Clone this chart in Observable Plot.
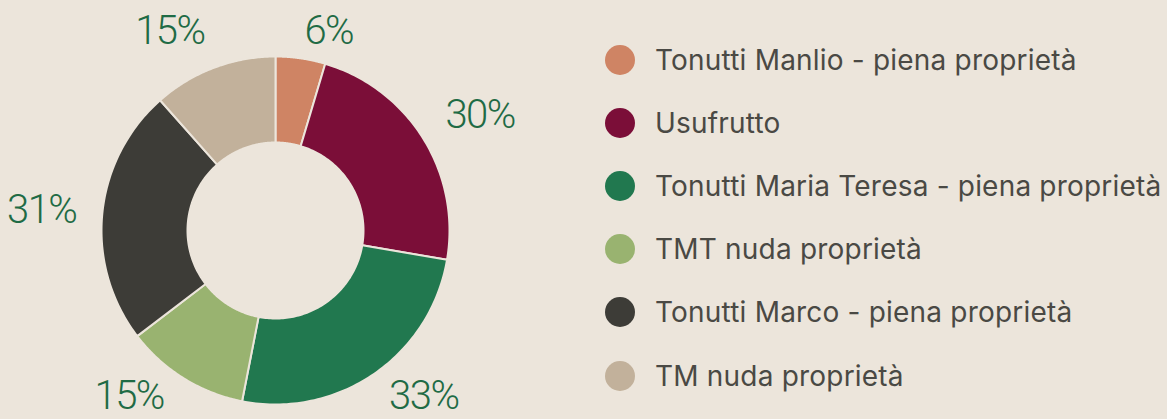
<!DOCTYPE html>
<html>
<head>
<meta charset="utf-8">
<script src="https://cdn.jsdelivr.net/npm/d3@7"></script>
<script src="https://cdn.jsdelivr.net/npm/@observablehq/plot@0.6"></script>
<style>
  html, body { margin: 0; padding: 0; background: #ece5db; }
  #wrap { position: relative; width: 1167px; height: 419px; overflow: hidden; }
  #legend { position: absolute; left: 605px; top: 28px; font-family: Inter, sans-serif; font-size: 28px; letter-spacing: 0.2px; color: #4a4944; }
  .row { display: flex; align-items: center; height: 63.2px; white-space: nowrap; }
  .dot { width: 30px; height: 30px; border-radius: 50%; margin-right: 20px; flex: none; }
</style>
</head>
<body>
<div id="wrap"><div id="chart"></div><div id="legend"></div></div>
<script>
const categories = [
  "Tonutti Manlio - piena proprietà",
  "Usufrutto",
  "Tonutti Maria Teresa - piena proprietà",
  "TMT nuda proprietà",
  "Tonutti Marco - piena proprietà",
  "TM nuda proprietà"
];
const values = [6, 30, 33, 15, 31, 15];
const labels = ["6%", "30%", "33%", "15%", "31%", "15%"];
const colors = ["#cf8464", "#7b0e38", "#21784f", "#99b370", "#3d3c37", "#c2b19b"];

const W = 1167, H = 419;
const cx = 275, cy = 230, R = 174, r0 = 88;   // layout (pixels)
const bg = "#ece5db";

const pie = d3.pie().sort(null).value(d => d)(values);

// slice outlines in unit coordinates (outer radius = 1)
const pts = [];
pie.forEach((s, i) => {
  const n = 80;
  for (let k = 0; k <= n; k++) {
    const a = s.startAngle + (s.endAngle - s.startAngle) * k / n;
    pts.push({i, cat: categories[i], x: Math.sin(a), y: Math.cos(a)});
  }
  for (let k = n; k >= 0; k--) {
    const a = s.startAngle + (s.endAngle - s.startAngle) * k / n;
    pts.push({i, cat: categories[i], x: Math.sin(a) * r0 / R, y: Math.cos(a) * r0 / R});
  }
});

// label layout: x on a circle of radius Rd, text pushed outward by half its height, y clamped into the frame
const Rd = 200, yMin = 31, yMax = 396, halfH = 15;
const clamp = v => Math.max(yMin, Math.min(yMax, v));
const lab = pie.map((s, i) => {
  const m = (s.startAngle + s.endAngle) / 2;
  const vx = Math.sin(m), vy = -Math.cos(m);
  const side = vx >= 0 ? 1 : -1;
  const yc = clamp(cy + Rd * vy);
  const px = cx + side * Math.sqrt(Math.max(0, Rd * Rd - (yc - cy) * (yc - cy)));
  const py = clamp(cy + Rd * vy + halfH * vy / Math.max(Math.abs(vx), Math.abs(vy)));
  return {text: labels[i], side, x: (px - cx) / R, y: (cy - py) / R};
});

const labelStyle = {x: "x", y: "y", text: "text", fill: "#1f6b45", fontSize: 40, fontWeight: 300,
  fontFamily: "Roboto"};

const chart = Plot.plot({
  width: W,
  height: H,
  margin: 0,
  style: {background: "transparent"},
  x: {domain: [-cx / R, (W - cx) / R], axis: null},
  y: {domain: [-(H - cy) / R, cy / R], axis: null},
  color: {domain: categories, range: colors},
  marks: [
    Plot.line(pts, {x: "x", y: "y", z: "i", fill: "cat", stroke: bg, strokeWidth: 2, curve: "linear-closed"}),
    Plot.text(lab.filter(d => d.side > 0), {...labelStyle, textAnchor: "start"}),
    Plot.text(lab.filter(d => d.side < 0), {...labelStyle, textAnchor: "end"})
  ]
});
chart.querySelectorAll("text").forEach(t => t.style.letterSpacing = "-1.5px");
document.getElementById("chart").appendChild(chart);

const legend = document.getElementById("legend");
categories.forEach((c, i) => {
  const row = document.createElement("div");
  row.className = "row";
  const dot = document.createElement("span");
  dot.className = "dot";
  dot.style.background = colors[i];
  const t = document.createElement("span");
  t.textContent = c;
  row.appendChild(dot);
  row.appendChild(t);
  legend.appendChild(row);
});
</script>
</body>
</html>
